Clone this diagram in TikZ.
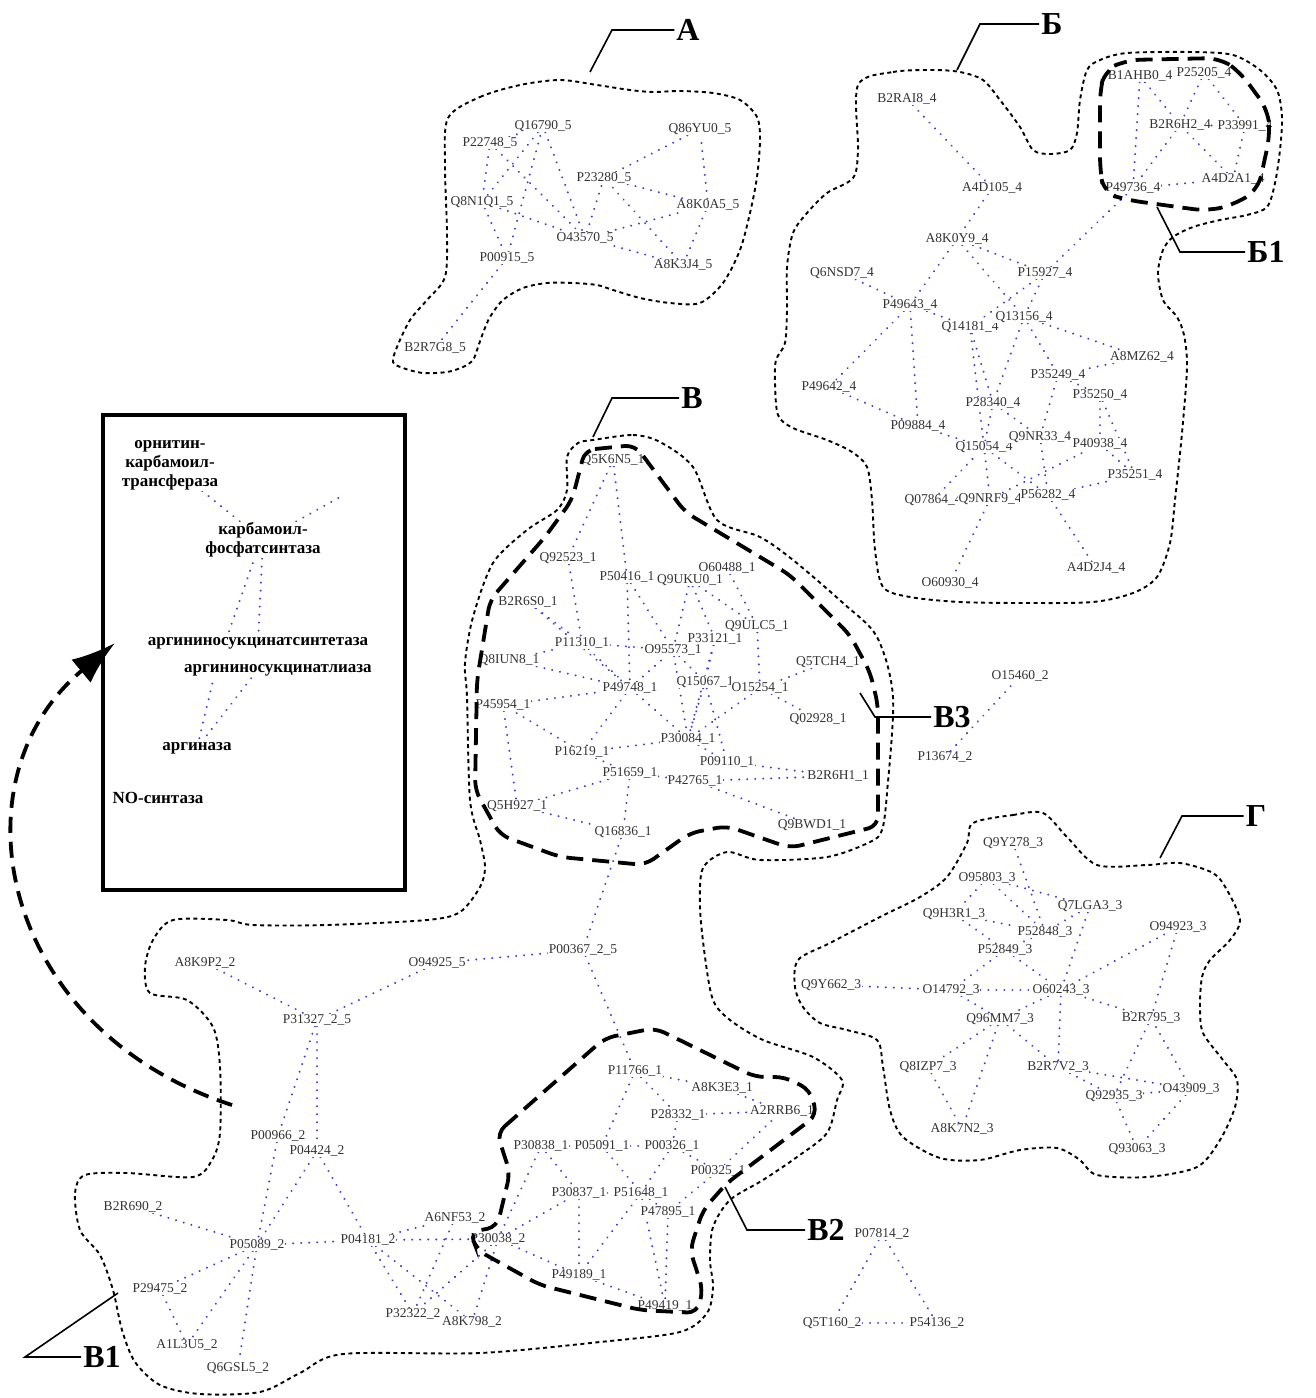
\documentclass[tikz,border=0pt]{standalone}
\usepackage{fontspec}
\setmainfont{Liberation Serif}
\usetikzlibrary{backgrounds}
\usetikzlibrary{arrows.meta}
\definecolor{linkblue}{RGB}{60,60,205}

\begin{document}
\begin{tikzpicture}
 [ x=1pt, y=-1pt
 , prot/.style={font=\fontsize{13.5}{14}\selectfont, text=black!80, fill=white, inner sep=0.6pt}
 , enzyme/.style={font=\bfseries\fontsize{17}{19}\selectfont, fill=white, inner sep=1pt, align=center}
 , tag/.style={font=\bfseries\fontsize{32}{32}\selectfont, inner sep=2pt}
 , link/.style={linkblue, line width=2.2pt, line cap=round, dash pattern=on 0.01pt off 8pt}
 , group/.style={line width=1.9pt, dash pattern=on 4pt off 3.5pt}
 , subgroup/.style={line width=3.8pt, dash pattern=on 17pt off 9pt}
 , leader/.style={line width=1.6pt}
 ]
  \useasboundingbox (0,0) rectangle (1316,1398);

  % cluster A
  \foreach \n/\x/\y/\t in
    { q16790/543/126/Q16790\_5, p22748/490/143/P22748\_5, q86yu0/700/129/Q86YU0\_5,
      p23280/604/178/P23280\_5, q8n1q1/482/202/Q8N1Q1\_5, a8k0a5/708/205/A8K0A5\_5,
      o43570/585/238/O43570\_5, p00915/507/258/P00915\_5, a8k3j4/683/265/A8K3J4\_5,
      b2r7g8/435/348/B2R7G8\_5}
    \node[prot] (\n) at (\x,\y) {\t};

  % cluster B
  \foreach \n/\x/\y/\t in
    { b2rai8/907/99/B2RAI8\_4, a4d105/992/188/A4D105\_4, a8k0y9/957/239/A8K0Y9\_4,
      q6nsd7/842/273/Q6NSD7\_4, p15927/1045/273/P15927\_4, p49643/910/305/P49643\_4,
      q14181/970/327/Q14181\_4, q13156/1024/317/Q13156\_4, a8mz62/1142/357/A8MZ62\_4,
      p35249/1058/375/P35249\_4, p49642/829/387/P49642\_4, p35250/1100/395/P35250\_4,
      p28340/993/403/P28340\_4, p09884/918/426/P09884\_4, q15054/984/447/Q15054\_4,
      q9nr33/1040/437/Q9NR33\_4, p40938/1100/444/P40938\_4, p35251/1135/475/P35251\_4,
      q07864/933/500/Q07864\_4, q9nrf9/990/499/Q9NRF9\_4, p56282/1048/495/P56282\_4,
      a4d2j4/1096/568/A4D2J4\_4, o60930/950/583/O60930\_4}
    \node[prot] (\n) at (\x,\y) {\t};
  % subcluster B1
  \foreach \n/\x/\y/\t in
    { b1ahb0/1140/76/B1AHB0\_4, p25205/1204/73/P25205\_4, b2r6h2/1180/125/B2R6H2\_4,
      p33991/1245/126/P33991\_4, p49736/1133/188/P49736\_4, a4d2a1/1233/179/A4D2A1\_4}
    \node[prot] (\n) at (\x,\y) {\t};

  % subcluster V3
  \foreach \n/\x/\y/\t in
    { q5k6n5/613/460/Q5K6N5\_1, q92523/568/558/Q92523\_1, p50416/627/577/P50416\_1,
      q9uku0/690/580/Q9UKU0\_1, o60488/727/568/O60488\_1, b2r6s0/528/602/B2R6S0\_1,
      q9ulc5/757/626/Q9ULC5\_1, p11310/582/643/P11310\_1, p33121/715/639/P33121\_1,
      o95573/673/650/O95573\_1, q8iun8/509/660/Q8IUN8\_1, q5tch4/828/662/Q5TCH4\_1,
      p49748/630/688/P49748\_1, q15067/705/682/Q15067\_1, o15254/760/688/O15254\_1,
      p45954/503/705/P45954\_1, q02928/818/719/Q02928\_1, p30084/688/739/P30084\_1,
      p16219/582/752/P16219\_1, p09110/727/762/P09110\_1, p51659/630/773/P51659\_1,
      p42765/695/781/P42765\_1, b2r6h1/838/776/B2R6H1\_1, q5h927/517/806/Q5H927\_1,
      q16836/623/832/Q16836\_1, q9bwd1/812/825/Q9BWD1\_1}
    \node[prot] (\n) at (\x,\y) {\t};

  % lower part of V, with V1 and V2
  \foreach \n/\x/\y/\t in
    { p00367/583/950/P00367\_2\_5, o94925/437/963/O94925\_5, a8k9p2/205/963/A8K9P2\_2,
      p31327/317/1020/P31327\_2\_5, p00966/278/1136/P00966\_2, p04424/317/1151/P04424\_2,
      b2r690/133/1207/B2R690\_2, p05089/257/1245/P05089\_2, p04181/368/1240/P04181\_2,
      p29475/160/1289/P29475\_2, a1l3u5/187/1345/A1L3U5\_2, q6gsl5/238/1368/Q6GSL5\_2,
      p32322/413/1314/P32322\_2, a8k798/472/1322/A8K798\_2, a6nf53/455/1218/A6NF53\_2,
      p30038/498/1239/P30038\_2}
    \node[prot] (\n) at (\x,\y) {\t};
  \foreach \n/\x/\y/\t in
    { p11766/635/1071/P11766\_1, a8k3e3/722/1088/A8K3E3\_1, p28332/678/1115/P28332\_1,
      a2rrb6/782/1111/A2RRB6\_1, p30838/541/1146/P30838\_1, p05091/602/1146/P05091\_1,
      p00326/672/1146/P00326\_1, p00325/718/1171/P00325\_1, p30837/579/1193/P30837\_1,
      p51648/641/1193/P51648\_1, p47895/668/1212/P47895\_1, p49189/579/1275/P49189\_1,
      p49419/665/1306/P49419\_1}
    \node[prot] (\n) at (\x,\y) {\t};

  % small pieces
  \foreach \n/\x/\y/\t in
    { o15460/1020/676/O15460\_2, p13674/945/757/P13674\_2, p07814/882/1234/P07814\_2,
      q5t160/832/1323/Q5T160\_2, p54136/937/1323/P54136\_2}
    \node[prot] (\n) at (\x,\y) {\t};

  % cluster G
  \foreach \n/\x/\y/\t in
    { q9y278/1013/843/Q9Y278\_3, o95803/987/878/O95803\_3, q7lga3/1090/906/Q7LGA3\_3,
      q9h3r1/954/914/Q9H3R1\_3, o94923/1178/927/O94923\_3, p52848/1045/932/P52848\_3,
      p52849/1005/950/P52849\_3, q9y662/831/985/Q9Y662\_3, o14792/951/990/O14792\_3,
      o60243/1061/990/O60243\_3, q96mm7/1000/1019/Q96MM7\_3, b2r795/1151/1018/B2R795\_3,
      q8izp7/928/1067/Q8IZP7\_3, b2r7v2/1058/1067/B2R7V2\_3, q92935/1114/1096/Q92935\_3,
      o43909/1191/1089/O43909\_3, a8k7n2/962/1129/A8K7N2\_3, q93063/1137/1149/Q93063\_3}
    \node[prot] (\n) at (\x,\y) {\t};

  % the urea cycle box
  \draw[line width=3.6pt] (103,415) rectangle (405,890);
  \node[enzyme] (ornit) at (170,465) {орнитин-\\карбамоил-\\трансфераза};
  \node[enzyme] (carb) at (263,540) {карбамоил-\\фосфатсинтаза};
  \node[enzyme] (ass) at (258,643) {аргининосукцинатсинтетаза};
  \node[enzyme] (asl) at (278,670) {аргининосукцинатлиаза};
  \node[enzyme] (arg) at (197,748) {аргиназа};
  \node[enzyme] (nos) at (158,798) {NO-синтаза};
  \coordinate (carb-up) at (340,497);
  \coordinate (carb-in) at (258,548);
  \coordinate (ass-in) at (226,640);
  \coordinate (asl-a) at (216,668);
  \coordinate (asl-b) at (256,672);

  \begin{pgfonlayer}{background}
    \fill[white] (0,0) rectangle (1316,1398);
    \foreach \a/\b in
      { p22748/q16790, p22748/q8n1q1, q16790/o43570, q8n1q1/o43570, p22748/o43570,
        q16790/q8n1q1, q8n1q1/p00915, p00915/q16790, p00915/b2r7g8, o43570/p23280,
        p23280/q86yu0, p23280/a8k0a5, a8k3j4/o43570, a8k0a5/q86yu0, a8k0a5/a8k3j4,
        a8k3j4/p23280, o43570/a8k0a5,
        % B
        b2rai8/a4d105, a4d105/a8k0y9, a8k0y9/p15927, a8k0y9/p49643, q6nsd7/p49643,
        p15927/p49736, p49643/q14181, p15927/q14181, p15927/q13156, q14181/p28340,
        q13156/p35249, q13156/a8mz62, q13156/p28340, p49643/p49642, p49643/p09884,
        p49642/p09884, p28340/q15054, p28340/q9nr33, p35249/p35250, p35249/q9nr33,
        p35250/p40938, p35250/p35251, q9nr33/q15054, q9nr33/p40938, q15054/q9nrf9,
        q9nr33/p56282, q15054/p56282, q9nrf9/o60930, p56282/a4d2j4, p40938/p35251,
        q07864/q15054, q15054/p09884, p56282/p35251, q9nrf9/p40938, a8mz62/p35249,
        q14181/q15054, a8k0y9/q13156,
        b1ahb0/p49736, b1ahb0/b2r6h2, p25205/b2r6h2, p25205/p33991, b2r6h2/p33991,
        b2r6h2/p49736, p49736/a4d2a1, a4d2a1/b2r6h2, p33991/a4d2a1,
        % V3
        q5k6n5/q92523, q5k6n5/p50416, b2r6s0/p11310, p50416/o95573, q9uku0/p33121,
        q9uku0/q9ulc5, o60488/q9ulc5, p11310/p49748, p11310/o95573, q8iun8/p49748,
        p45954/p49748, p45954/q5h927, p49748/p30084, o95573/q15067, p33121/q15067,
        q15067/p30084, q5tch4/o15254, o15254/q02928, p30084/p16219, p30084/p09110,
        p16219/p51659, p51659/p42765, p42765/b2r6h1, p09110/b2r6h1, p42765/q9bwd1,
        p51659/q16836, q5h927/p51659, q5h927/q16836, p49748/p16219, p16219/p45954,
        q9ulc5/o15254, o95573/p30084, p33121/p30084, p49748/o95573, q9uku0/o95573,
        p50416/p49748, q8iun8/p11310, o15254/p30084, q15067/p09110, b2r6s0/p49748,
        q92523/p11310,
        % lower V
        q16836/p00367, p00367/o94925, p00367/p11766, o94925/p31327, a8k9p2/p31327,
        p31327/p00966, p31327/p04424, p00966/p05089, p04424/p05089, p04424/p04181,
        b2r690/p05089, p05089/p04181, p05089/p29475, p05089/a1l3u5, p05089/q6gsl5,
        p29475/a1l3u5, p04181/a6nf53, p04181/p30038, p04181/p32322, p04181/a8k798,
        a6nf53/p32322, p30038/a8k798, p30038/p32322, p30038/p30837, p30038/p49189,
        p11766/a8k3e3, p11766/p28332, p11766/p05091, p28332/p00326, p28332/a2rrb6,
        a8k3e3/a2rrb6, p05091/p00326, p30838/p30837, p05091/p51648, p00326/p51648,
        p00326/p00325, p30837/p51648, p51648/p47895, p30837/p49189, p51648/p49189,
        p47895/p49419, p51648/p49419, p30838/p05091, p30838/p30038, p00325/a2rrb6,
        p49189/p49419, p00325/p47895,
        p13674/o15460, p07814/q5t160, p07814/p54136, q5t160/p54136,
        % G
        q9y278/p52848, o95803/q7lga3, o95803/q9h3r1, o95803/p52848, q9h3r1/p52849,
        q9h3r1/p52848, p52848/p52849, p52849/o14792, p52849/o60243, o14792/o60243,
        q9y662/o14792, o14792/q96mm7, o60243/q96mm7, o60243/b2r7v2, o60243/o94923,
        o94923/b2r795, b2r795/o60243, q96mm7/q8izp7, q8izp7/a8k7n2, q96mm7/a8k7n2,
        b2r7v2/q92935, q92935/o43909, q92935/q93063, o43909/q93063, b2r795/q92935,
        b2r7v2/o43909, q7lga3/p52848, q7lga3/o60243, q96mm7/b2r7v2, o43909/b2r795,
        % box
        ornit/carb, carb/carb-up, carb/ass, carb-in/ass-in, asl-a/arg, asl-b/arg}
      \draw[link] (\a) -- (\b);
  \end{pgfonlayer}

  % cluster outlines
  \draw[group] plot[smooth cycle] coordinates
    { (448,118) (480,97) (520,85) (560,80) (597,85) (630,90) (653,92) (680,91)
      (713,93) (740,100) (757,117) (760,140) (757,177) (750,213) (740,250) (723,283)
      (700,303) (670,303) (640,298) (613,290) (597,285) (573,283) (547,283) (523,288)
      (503,300) (490,317) (483,333) (478,347) (473,360) (463,367) (447,372) (423,373)
      (403,368) (393,362) (397,347) (410,320) (427,300) (445,277) (447,233) (445,167) };
  \draw[group] plot[smooth cycle] coordinates
    { (858,85) (893,72) (933,70) (960,72) (983,80) (1000,100) (1020,127) (1033,150)
      (1050,154) (1070,150) (1077,133) (1080,100) (1087,70) (1100,60) (1127,53)
      (1193,52) (1233,55) (1260,70) (1277,90) (1282,117) (1280,150) (1275,183)
      (1267,207) (1247,215) (1220,220) (1193,227) (1173,237) (1163,250) (1158,273)
      (1163,300) (1177,317) (1184,335) (1187,367) (1182,433) (1175,500) (1170,543)
      (1157,577) (1133,593) (1093,602) (1027,603) (960,602) (910,597) (883,587)
      (875,550) (872,500) (867,467) (852,452) (827,440) (793,428) (778,415)
      (775,383) (776,360) (785,343) (787,310) (787,267) (793,233) (807,213)
      (827,193) (853,178) (858,150) };
  \draw[group] plot[smooth cycle] coordinates
    { (593,440) (633,435) (660,442) (693,467) (717,520) (760,537) (793,560) (843,603)
      (877,637) (893,697) (887,793) (882,830) (870,842) (827,857) (760,860) (727,852)
      (703,868) (700,907) (705,957) (713,1000) (730,1020) (763,1040) (813,1057)
      (842,1080) (837,1100) (827,1133) (797,1157) (763,1180) (730,1200) (713,1227)
      (710,1260) (713,1287) (707,1313) (680,1332) (600,1342) (480,1353) (343,1354)
      (300,1373) (260,1392) (200,1394) (160,1385) (135,1362) (122,1330) (113,1290)
      (100,1255) (80,1230) (75,1193) (85,1175) (127,1173) (193,1177) (212,1160)
      (220,1133) (220,1067) (213,1027) (187,1000) (150,993) (145,967) (153,940)
      (173,920) (227,920) (253,925) (327,925) (427,920) (460,912) (480,887) (485,867)
      (480,840) (470,800) (467,697) (465,663) (473,617) (493,563) (527,530) (557,510)
      (567,490) (567,457) (578,443) };
  \draw[group] plot[smooth cycle] coordinates
    { (973,823) (1013,815) (1043,813) (1067,837) (1097,865) (1147,865) (1180,863)
      (1213,873) (1227,890) (1240,920) (1230,940) (1210,960) (1202,977) (1200,1007)
      (1203,1033) (1223,1060) (1237,1080) (1235,1107) (1220,1140) (1197,1167)
      (1147,1177) (1097,1175) (1080,1160) (1057,1148) (1020,1150) (980,1160)
      (940,1158) (903,1137) (890,1110) (883,1067) (877,1040) (847,1030) (820,1023)
      (803,1007) (795,987) (798,960) (830,943) (880,917) (920,897) (947,877) (967,843) };

  % subclusters
  \draw[subgroup, rounded corners=14pt]
    (1105,70) -- (1127,60) -- (1220,58) -- (1240,72) -- (1268,110) -- (1270,135)
    -- (1258,190) -- (1233,205) -- (1207,211) -- (1127,200) -- (1104,193)
    -- (1100,170) -- (1100,90) -- cycle;
  \draw[subgroup, rounded corners=10pt]
    (585,450) -- (635,445) -- (685,512) -- (790,575) -- (850,635) -- (870,672)
    -- (878,705) -- (878,826) -- (790,848) -- (727,826) -- (690,833) -- (645,865)
    -- (560,857) -- (500,835) -- (475,790) -- (477,680) -- (490,600) -- (545,537)
    -- (572,500) -- cycle;
  \draw[subgroup, rounded corners=10pt]
    (497,1133) -- (605,1038) -- (655,1028) -- (755,1077) -- (785,1077) -- (810,1090)
    -- (817,1115) -- (727,1183) -- (703,1210) -- (690,1250) -- (703,1290)
    -- (697,1313) -- (640,1310) -- (540,1285) -- (477,1250) -- (470,1232)
    -- (497,1227) -- (510,1173) -- cycle;

  % arrow into the box
  \coordinate (arrow-foot) at (232,1105);
  \coordinate (arrow-tip) at (115,643);
  \draw[line width=3.8pt, dash pattern=on 16pt off 9pt, -{Latex[length=44pt,width=30pt]}]
    (arrow-foot) .. controls (0,1030) and (-50,780) .. (arrow-tip);

  % tags with leaders
  \node[tag] (tagA) at (688,30) {А};
  \node[tag] (tagB) at (1052,24) {Б};
  \node[tag] (tagB1) at (1266,252) {Б1};
  \node[tag] (tagV) at (692,398) {В};
  \node[tag] (tagV3) at (952,717) {В3};
  \node[tag] (tagG) at (1256,816) {Г};
  \node[tag] (tagV2) at (826,1230) {В2};
  \node[tag] (tagV1) at (102,1357) {В1};
  \coordinate (footA) at (590,72);    \coordinate (kneeA) at (612,30);
  \coordinate (footB) at (957,70);    \coordinate (kneeB) at (980,24);
  \coordinate (footB1) at (1157,207); \coordinate (kneeB1) at (1180,252);
  \coordinate (footV) at (593,437);   \coordinate (kneeV) at (612,398);
  \coordinate (footV3) at (860,693);  \coordinate (kneeV3) at (875,717);
  \coordinate (footG) at (1160,858);  \coordinate (kneeG) at (1182,816);
  \coordinate (footV2) at (725,1187); \coordinate (kneeV2) at (747,1230);
  \coordinate (footV1) at (118,1293); \coordinate (kneeV1) at (25,1357);
  \foreach \t in {A,B,B1,V,V3,G,V2,V1}
    \draw[leader] (foot\t) -- (knee\t) -- (tag\t);
\end{tikzpicture}
\end{document}
